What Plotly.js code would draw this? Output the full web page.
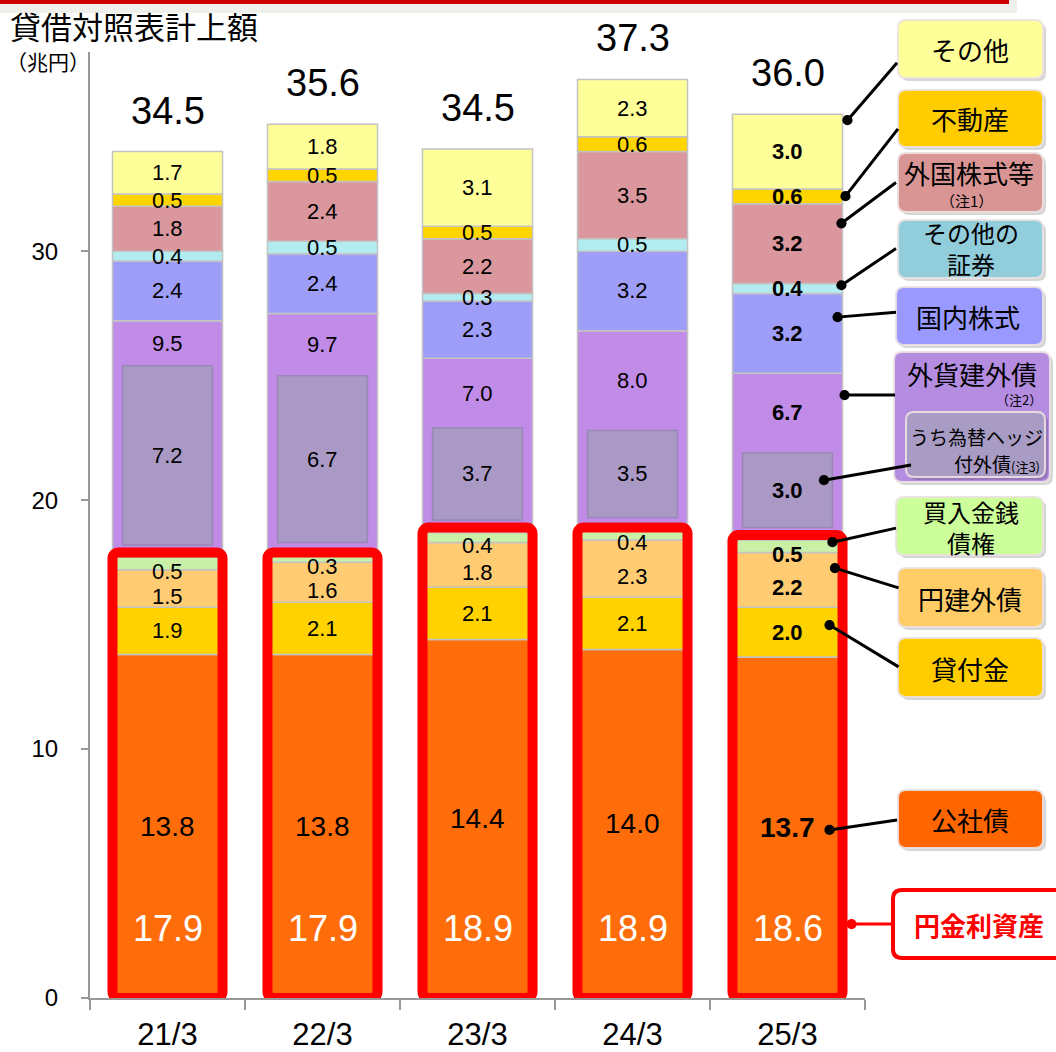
<!DOCTYPE html>
<html>
<head>
<meta charset="utf-8">
<script src="https://cdn.plot.ly/plotly-3.0.1.min.js"></script>
<style>
  html, body { margin: 0; padding: 0; background: #fff; }
  #chart { width: 1056px; height: 1052px; }
</style>
</head>
<body>
<div id="chart"></div>
<script>
// 貸借対照表計上額（兆円）: 資産別の積み上げ
const categories = ['21/3', '22/3', '23/3', '24/3', '25/3'];
const totals = [34.5, 35.6, 34.5, 37.3, 36.0];
const yenRateAssets = [17.9, 17.9, 18.9, 18.9, 18.6];

const corporateBonds = [13.8, 13.8, 14.4, 14.0, 13.7];
const loans = [1.9, 2.1, 2.1, 2.1, 2.0];
const yenForeignBonds = [1.5, 1.6, 1.8, 2.3, 2.2];
const monetaryClaims = [0.5, 0.3, 0.4, 0.4, 0.5];
const foreignBonds = [9.5, 9.7, 7.0, 8.0, 6.7];
const hedgedForeignBonds = [7.2, 6.7, 3.7, 3.5, 3.0];
const domesticStocks = [2.4, 2.4, 2.3, 3.2, 3.2];
const otherSecurities = [0.4, 0.5, 0.3, 0.5, 0.4];
const foreignStocks = [1.8, 2.4, 2.2, 3.5, 3.2];
const realEstate = [0.5, 0.5, 0.5, 0.6, 0.6];
const others = [1.7, 1.8, 3.1, 2.3, 3.0];

const NUM = 'Liberation Sans, Arial, sans-serif';
const JP = 'Noto Sans CJK JP, Noto Sans CJK SC, sans-serif';

const layers = [
  { name: '公社債', values: corporateBonds, color: '#FF6D0A' },
  { name: '貸付金', values: loans, color: '#FFD200' },
  { name: '円建外債', values: yenForeignBonds, color: '#FFCC73' },
  { name: '買入金銭債権', values: monetaryClaims, color: '#C9F0A6' },
  { name: '外貨建外債', values: foreignBonds, color: '#C18CE8' },
  { name: '国内株式', values: domesticStocks, color: '#9E9EF8' },
  { name: 'その他の証券', values: otherSecurities, color: '#B2ECF0' },
  { name: '外国株式等', values: foreignStocks, color: '#DA979E' },
  { name: '不動産', values: realEstate, color: '#FFD500' },
  { name: 'その他', values: others, color: '#FFFF99' }
];

const xs = categories.map((_, i) => i);
let running = xs.map(() => 0);
layers.forEach(l => {
  l.base = running.slice();
  running = running.map((b, i) => +(b + l.values[i]).toFixed(3));
  l.top = running.slice();
});
const stackTop = running;
const foreignLayer = layers.find(l => l.name === '外貨建外債');
const hedgeBase = foreignLayer.base.map(b => b + 0.5);

const BAR_W = 0.71;
const traces = [];

layers.forEach(l => {
  traces.push({
    type: 'bar', name: l.name, x: xs, y: l.values, base: l.base, width: BAR_W,
    marker: { color: l.color, line: { color: 'rgba(195,195,195,1)', width: 1.5 } },
    hoverinfo: 'skip', showlegend: false
  });
});

// うち為替ヘッジ付外債（外貨建外債の内数）
traces.push({
  type: 'bar', name: 'うち為替ヘッジ付外債', x: xs, y: hedgedForeignBonds, base: hedgeBase, width: 0.58,
  marker: { color: '#A999C4', line: { color: 'rgba(150,135,180,0.9)', width: 1.5 } },
  hoverinfo: 'skip', showlegend: false
});

// 円金利資産の枠
traces.push({
  type: 'bar', name: '円金利資産', x: xs, y: yenRateAssets, base: xs.map(() => 0), width: BAR_W,
  marker: { color: 'rgba(0,0,0,0)', line: { color: '#FF0000', width: 10 }, cornerradius: 6 },
  hoverinfo: 'skip', showlegend: false
});

// pixel -> paper
const W = 1056, H = 1052, ML = 90, MR = 191, MT = 52, MB = 54;
const PW = W - ML - MR, PH = H - MT - MB;
const px = x => (x - ML) / PW;
const py = y => (H - MB - y) / PH;

const annotations = [];
const shapes = [];

// segment labels
layers.forEach(l => {
  xs.forEach(i => {
    let y = l.base[i] + l.values[i] / 2;
    let yshift = 0;
    let size = 22;
    if (l.name === '外貨建外債') y = (hedgeBase[i] + hedgedForeignBonds[i] + l.top[i]) / 2;
    if (l.name === '円建外債' || l.name === '買入金銭債権') yshift = -8;
    if (l.name === '公社債') size = 28;
    const t = l.values[i].toFixed(1);
    annotations.push({
      x: i, y: y, yshift: yshift, xref: 'x', yref: 'y',
      text: i === 4 ? '<b>' + t + '</b>' : t,
      showarrow: false, font: { family: NUM, size: size, color: '#000' }
    });
  });
});

xs.forEach(i => {
  const t = hedgedForeignBonds[i].toFixed(1);
  annotations.push({
    x: i, y: hedgeBase[i] + hedgedForeignBonds[i] / 2, xref: 'x', yref: 'y',
    text: i === 4 ? '<b>' + t + '</b>' : t,
    showarrow: false, font: { family: NUM, size: 22, color: '#000' }
  });
  annotations.push({
    x: i, y: stackTop[i], xref: 'x', yref: 'y', yanchor: 'bottom', yshift: 18,
    text: totals[i].toFixed(1), showarrow: false,
    font: { family: NUM, size: 38, color: '#000' }
  });
  annotations.push({
    x: i, y: 2.8, xref: 'x', yref: 'y',
    text: yenRateAssets[i].toFixed(1), showarrow: false,
    font: { family: NUM, size: 36, color: '#FFFFFF' }
  });
});

// heading
annotations.push({
  xref: 'paper', yref: 'paper', x: px(8), y: py(25), xanchor: 'left', yanchor: 'middle',
  text: '貸借対照表計上額', showarrow: false, font: { family: JP, size: 31, color: '#000' }
});
annotations.push({
  xref: 'paper', yref: 'paper', x: px(4), y: py(61), xanchor: 'left', yanchor: 'middle',
  text: '（兆円）', showarrow: false, font: { family: JP, size: 21, color: '#000' }
});

// top rule
shapes.push({ type: 'rect', xref: 'paper', yref: 'paper', x0: px(0), x1: px(1017), y0: py(0), y1: py(13),
  fillcolor: '#EFEFEB', line: { width: 0 }, layer: 'below' });
shapes.push({ type: 'rect', xref: 'paper', yref: 'paper', x0: px(0), x1: px(1009), y0: py(0), y1: py(4),
  fillcolor: '#CC0000', line: { width: 0 } });

function roundRect(x0, y0, x1, y1, r) {
  const P = (x, y) => px(x).toFixed(5) + ',' + py(y).toFixed(5);
  return 'M' + P(x0 + r, y0) + 'L' + P(x1 - r, y0) + 'Q' + P(x1, y0) + ' ' + P(x1, y0 + r) +
    'L' + P(x1, y1 - r) + 'Q' + P(x1, y1) + ' ' + P(x1 - r, y1) +
    'L' + P(x0 + r, y1) + 'Q' + P(x0, y1) + ' ' + P(x0, y1 - r) +
    'L' + P(x0, y0 + r) + 'Q' + P(x0, y0) + ' ' + P(x0 + r, y0) + 'Z';
}

// legend boxes: [x0, y0, x1, y1] in pixels
const legendBoxes = [
  { box: [898, 20, 1043, 78], fill: '#FFFF99', texts: [['その他', 970, 49, 26]] },
  { box: [898, 90, 1043, 147], fill: '#FFCC00', texts: [['不動産', 970, 118, 26]] },
  { box: [898, 153, 1043, 212], fill: '#D99594', texts: [['外国株式等', 969, 172, 26], ['（注1）', 966, 200, 15]] },
  { box: [898, 220, 1043, 278], fill: '#92CDDC', texts: [['その他の<br>証券', 971, 248, 24]] },
  { box: [896, 287, 1043, 345], fill: '#9999FF', texts: [['国内株式', 968, 316, 26]] },
  { box: [894, 352, 1050, 482], fill: '#B48CE0', texts: [['外貨建外債', 972, 374, 26], ['（注2）', 1019, 400, 13]] },
  { box: [906, 412, 1045, 477], fill: '#A99CC4', texts: [['うち為替ヘッジ', 976, 436, 19]] },
  { box: [896, 497, 1043, 555], fill: '#CCFF99', texts: [['買入金銭<br>債権', 971, 527, 24]] },
  { box: [898, 568, 1043, 627], fill: '#FFCC66', texts: [['円建外債', 970, 598, 26]] },
  { box: [898, 638, 1043, 697], fill: '#FFCC00', texts: [['貸付金', 970, 668, 26]] },
  { box: [898, 790, 1043, 848], fill: '#FF6600', texts: [['公社債', 970, 819, 26]] }
];

legendBoxes.forEach(b => {
  const [x0, y0, x1, y1] = b.box;
  shapes.push({ type: 'path', xref: 'paper', yref: 'paper', path: roundRect(x0 + 3, y0 + 3, x1 + 3, y1 + 3, 8),
    fillcolor: 'rgba(0,0,0,0.16)', line: { width: 0 } });
  shapes.push({ type: 'path', xref: 'paper', yref: 'paper', path: roundRect(x0, y0, x1, y1, 8),
    fillcolor: b.fill, line: { color: 'rgba(235,225,225,0.9)', width: 2 } });
  b.texts.forEach(([t, x, y, s]) => {
    annotations.push({ xref: 'paper', yref: 'paper', x: px(x), y: py(y), xanchor: 'center', yanchor: 'middle',
      text: t, showarrow: false, borderpad: 0, font: { family: JP, size: s, color: '#000' } });
  });
});
annotations.push({ xref: 'paper', yref: 'paper', x: px(1041), y: py(463), xanchor: 'right', yanchor: 'middle',
  text: '付外債<span style="font-size:13px">(注3)</span>', showarrow: false, borderpad: 0,
  font: { family: JP, size: 19, color: '#000' } });

// 円金利資産 box
shapes.push({ type: 'path', xref: 'paper', yref: 'paper', path: roundRect(893, 890, 1064, 958, 9),
  fillcolor: '#FFFFFF', line: { color: '#FF0000', width: 4 } });
annotations.push({ xref: 'paper', yref: 'paper', x: px(979), y: py(924), xanchor: 'center', yanchor: 'middle',
  text: '<b>円金利資産</b>', showarrow: false, font: { family: JP, size: 26, color: '#FF0000' } });

// callout leaders: dot on 25/3 bar -> legend box
const callouts = [
  { x: 4.387, y: 35.26, ax: 4.71, ay: 37.59 },
  { x: 4.374, y: 32.21, ax: 4.716, ay: 34.94 },
  { x: 4.348, y: 31.12, ax: 4.703, ay: 32.77 },
  { x: 4.348, y: 28.63, ax: 4.703, ay: 30.12 },
  { x: 4.323, y: 27.35, ax: 4.703, ay: 27.55 },
  { x: 4.368, y: 24.22, ax: 4.697, ay: 24.22 },
  { x: 4.235, y: 20.80, ax: 4.80, ay: 21.41 },
  { x: 4.29, y: 18.31, ax: 4.703, ay: 18.88 },
  { x: 4.306, y: 17.27, ax: 4.72, ay: 16.47 },
  { x: 4.271, y: 14.98, ax: 4.72, ay: 13.29 },
  { x: 4.271, y: 6.75, ax: 4.71, ay: 7.15 },
  { x: 4.413, y: 2.97, ax: 4.684, ay: 2.97, color: '#FF0000' }
];
callouts.forEach(c => {
  annotations.push({
    x: c.x, y: c.y, xref: 'x', yref: 'y', axref: 'x', ayref: 'y', ax: c.ax, ay: c.ay,
    text: ' ', font: { size: 1 }, borderpad: 0,
    showarrow: true, arrowhead: 6, arrowsize: 0.85, arrowwidth: 3,
    arrowcolor: c.color || '#000', standoff: 0
  });
});

const layout = {
  width: W, height: H,
  margin: { l: ML, r: MR, t: MT, b: MB, pad: 0 },
  paper_bgcolor: '#FFFFFF', plot_bgcolor: '#FFFFFF',
  barmode: 'overlay', showlegend: false,
  xaxis: {
    type: 'linear', range: [-0.5, 4.5], fixedrange: true,
    tickvals: xs, ticktext: categories, ticks: '',
    ticklabelstandoff: 8,
    tickfont: { family: NUM, size: 31, color: '#000' },
    showgrid: false, zeroline: false,
    showline: true, linecolor: '#999999', linewidth: 2,
    minor: { tickvals: [-0.5, 0.5, 1.5, 2.5, 3.5, 4.5], ticks: 'outside', ticklen: 10, tickwidth: 2, tickcolor: '#999999', showgrid: false }
  },
  yaxis: {
    range: [0, 38], fixedrange: true,
    tickvals: [0, 10, 20, 30], ticks: 'outside', ticklen: 7, tickwidth: 2, tickcolor: '#999999',
    ticklabelstandoff: 18,
    tickfont: { family: NUM, size: 24, color: '#000' },
    showgrid: false, zeroline: false,
    showline: true, linecolor: '#999999', linewidth: 2
  },
  annotations: annotations,
  shapes: shapes
};

Plotly.newPlot('chart', traces, layout, { staticPlot: true, displayModeBar: false });
</script>
</body>
</html>
